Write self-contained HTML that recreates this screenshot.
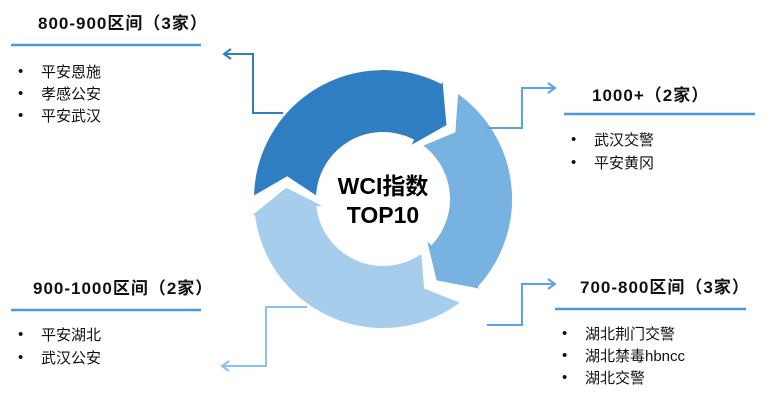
<!DOCTYPE html>
<html><head><meta charset="utf-8"><style>
html,body{margin:0;padding:0;background:#fff;}
body{width:780px;height:405px;overflow:hidden;position:relative;font-family:"Liberation Sans","Noto Sans CJK SC",sans-serif;}
</style></head><body>
<svg id="s" width="780" height="405" viewBox="0 0 780 405" xmlns="http://www.w3.org/2000/svg" style="position:absolute;left:0;top:0">
<g id="ring"></g>
<g fill="none" stroke-width="2">
<polyline points="283,113 253,113 253,54 224,54" stroke="#2E7EC1"/>
<polyline points="231,49 224,54 231,59" stroke="#2E7EC1"/>
<polyline points="487,128 522,128 522,88 555,88" stroke="#5BA3E6"/>
<polyline points="548,83 555,88 548,93" stroke="#5BA3E6"/>
<polyline points="487,325 522,325 522,284 555,284" stroke="#5BA3E6"/>
<polyline points="548,279 555,284 548,289" stroke="#5BA3E6"/>
<polyline points="307,307 266,307 266,366 222,366" stroke="#8CC0EE"/>
<polyline points="229,361 222,366 229,371" stroke="#8CC0EE"/>
</g>
<g stroke="#4A98E0" stroke-width="2.5">
<line x1="11" y1="45" x2="201" y2="45"/>
<line x1="564" y1="114" x2="755" y2="114"/>
<line x1="11" y1="310" x2="201" y2="310"/>
<line x1="555" y1="309" x2="746" y2="309"/>
</g>
<g font-family="Liberation Sans,Noto Sans CJK SC,sans-serif" font-weight="bold" font-size="23" text-anchor="middle" fill="#000">
<text x="383" y="194">WCI指数</text>
<text x="383" y="223">TOP10</text>
</g>
<g font-family="Liberation Sans,Noto Sans CJK SC,sans-serif" font-weight="bold" font-size="17" fill="#111">
<text x="38" y="29" letter-spacing="1">800-900区间（3家）</text>
<text x="592" y="101" letter-spacing="1">1000+（2家）</text>
<text x="33" y="294" letter-spacing="1">900-1000区间（2家）</text>
<text x="580" y="293" letter-spacing="1">700-800区间（3家）</text>
</g>
<g font-family="Liberation Sans,Noto Sans CJK SC,sans-serif" font-size="15" fill="#111">
<text x="18" y="76">•</text><text x="41" y="77">平安恩施</text>
<text x="18" y="98">•</text><text x="41" y="99">孝感公安</text>
<text x="18" y="120">•</text><text x="41" y="121">平安武汉</text>
<text x="571" y="144">•</text><text x="594" y="145">武汉交警</text>
<text x="571" y="167">•</text><text x="594" y="168">平安黄冈</text>
<text x="18" y="339">•</text><text x="41" y="340">平安湖北</text>
<text x="18" y="362">•</text><text x="41" y="363">武汉公安</text>
<text x="562" y="338">•</text><text x="585" y="339">湖北荆门交警</text>
<text x="562" y="360">•</text><text x="585" y="361">湖北禁毒hbncc</text>
<text x="562" y="382">•</text><text x="585" y="383">湖北交警</text>
</g>
</svg>
<script>
(function(){
var cx=383,cy=199,R=131,r=65,m=98;
function p(a,rad){var t=a*Math.PI/180;return (cx+rad*Math.cos(t)).toFixed(1)+","+(cy+rad*Math.sin(t)).toFixed(1);}
function seg(s,b,t,col){
 var span=b-s; if(span<0)span+=360;
 var large=span>180?1:0;
 var d="M"+p(s,R)+" A"+R+","+R+" 0 "+large+" 1 "+p(b,R)+
 " L"+p(b,R+8)+" L"+p(t,m)+" L"+p(b,r-10)+" L"+p(b,r)+
 " A"+r+","+r+" 0 "+large+" 0 "+p(s,r)+" L"+p(s+12,m)+" Z";
 return '<path d="'+d+'" fill="'+col+'" stroke="#fff" stroke-width="4" stroke-linejoin="miter"/>';
}
var g=document.getElementById("ring");
g.innerHTML=seg(52,172,188,"#A6CDEC")+seg(304,42,58,"#78B2E1")+seg(180,296,312,"#2E7EC1");
})();
</script>
</body></html>
